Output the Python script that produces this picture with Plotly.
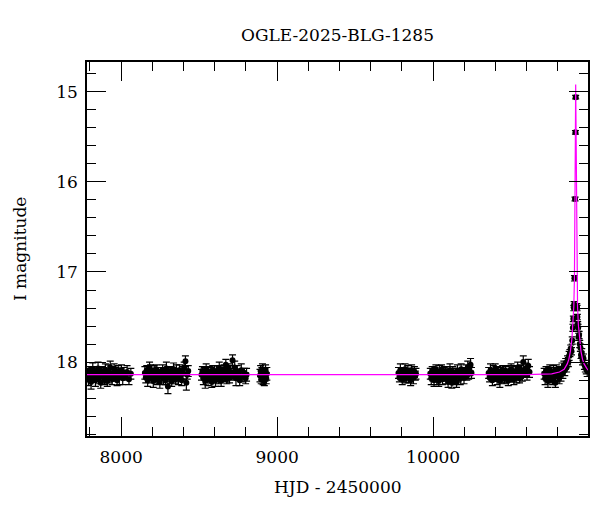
import plotly.graph_objects as go

# ---------------- data ----------------
t1 = [7785, 7790, 7796, 7801, 7807, 7812, 7818, 7823, 7829, 7835, 7841, 7846, 7852, 7858, 7864,
      7869, 7875, 7881, 7887, 7893, 7899, 7905, 7911, 7917, 7923, 7930, 7936, 7942, 7948, 7955,
      7961, 7968, 7974, 7981, 7988, 7995, 8002, 8010, 8018, 8027, 8038, 8050, 8062]
m1 = [18.13, 18.19, 18.10, 18.16, 18.22, 18.12, 18.08, 18.17, 18.14, 18.20,
      18.11, 18.15, 18.07, 18.18, 18.13, 18.23, 18.10, 18.16, 18.12, 18.19,
      18.09, 18.14, 18.21, 18.11, 18.17, 18.06, 18.15, 18.19, 18.12, 18.08,
      18.16, 18.13, 18.20, 18.10, 18.17, 18.14, 18.09, 18.18, 18.12, 18.15,
      18.11, 18.19, 18.13]
e1 = [0.06, 0.07, 0.05, 0.06, 0.08, 0.06, 0.07, 0.05, 0.06, 0.07,
      0.06, 0.05, 0.07, 0.06, 0.08, 0.06, 0.05, 0.07, 0.06, 0.06,
      0.07, 0.05, 0.06, 0.08, 0.06, 0.07, 0.05, 0.06, 0.07, 0.06,
      0.05, 0.07, 0.06, 0.06, 0.08, 0.05, 0.06, 0.07, 0.06, 0.05,
      0.07, 0.06, 0.06]

t2 = [8152, 8158, 8164, 8170, 8176, 8182, 8188, 8194, 8200, 8206, 8212, 8218, 8224, 8230, 8236,
      8242, 8248, 8254, 8260, 8266, 8272, 8278, 8284, 8290, 8296, 8300, 8306, 8312, 8318, 8324,
      8330, 8336, 8342, 8348, 8354, 8360, 8367, 8374, 8381, 8388, 8396, 8404, 8412, 8418, 8424, 8430]
m2 = [18.12, 18.17, 18.09, 18.20, 18.14, 18.06, 18.11, 18.18, 18.13, 18.21,
      18.10, 18.15, 18.08, 18.19, 18.12, 18.16, 18.22, 18.11, 18.14, 18.09,
      18.18, 18.13, 18.20, 18.07, 18.15, 18.27, 18.12, 18.17, 18.10, 18.21,
      18.14, 18.08, 18.16, 18.19, 18.11, 18.13, 18.18, 18.09, 18.15, 18.20,
      18.12, 18.06, 17.99, 18.23, 18.14, 18.10]
e2 = [0.07, 0.06, 0.05, 0.07, 0.06, 0.06, 0.08, 0.05, 0.06, 0.07,
      0.06, 0.07, 0.05, 0.06, 0.06, 0.08, 0.07, 0.05, 0.06, 0.06,
      0.07, 0.06, 0.05, 0.07, 0.06, 0.08, 0.06, 0.07, 0.05, 0.06,
      0.06, 0.07, 0.06, 0.05, 0.08, 0.06, 0.07, 0.06, 0.05, 0.06,
      0.07, 0.06, 0.06, 0.08, 0.05, 0.06]

t3 = [8515, 8521, 8527, 8533, 8539, 8545, 8551, 8557, 8563, 8569, 8575, 8581, 8587, 8593, 8599,
      8605, 8611, 8617, 8623, 8629, 8635, 8641, 8647, 8653, 8659, 8665, 8671, 8677, 8683, 8689,
      8695, 8701, 8707, 8714, 8721, 8728, 8736, 8744, 8752, 8760, 8770, 8780, 8790, 8798, 8804]
m3 = [18.14, 18.10, 18.18, 18.12, 18.21, 18.08, 18.15, 18.19, 18.11, 18.16,
      18.13, 18.22, 18.09, 18.17, 18.12, 18.20, 18.10, 18.15, 18.18, 18.07,
      18.13, 18.21, 18.11, 18.16, 18.09, 18.14, 18.03, 18.19, 18.12, 18.08,
      18.17, 18.11, 18.15, 17.98, 18.13, 18.06, 18.18, 18.10, 18.14, 18.20,
      18.09, 18.16, 18.12, 18.18, 18.14]
e3 = [0.06, 0.05, 0.07, 0.06, 0.08, 0.06, 0.05, 0.07, 0.06, 0.06,
      0.07, 0.06, 0.05, 0.06, 0.08, 0.07, 0.06, 0.05, 0.06, 0.07,
      0.06, 0.06, 0.07, 0.05, 0.06, 0.08, 0.06, 0.05, 0.07, 0.06,
      0.06, 0.07, 0.05, 0.06, 0.06, 0.07, 0.08, 0.06, 0.05, 0.06,
      0.07, 0.06, 0.05, 0.06, 0.07]

t4 = [8890, 8894, 8898, 8902, 8906, 8910, 8914, 8918, 8922, 8926, 8930, 8934]
m4 = [18.15, 18.10, 18.19, 18.13, 18.08, 18.17, 18.12, 18.21, 18.14, 18.09, 18.18, 18.13]
e4 = [0.07, 0.06, 0.05, 0.07, 0.06, 0.08, 0.06, 0.05, 0.07, 0.06, 0.06, 0.07]

t5 = [9778, 9784, 9790, 9796, 9802, 9808, 9814, 9820, 9826, 9832,
      9838, 9844, 9850, 9856, 9862, 9868, 9874, 9880, 9886, 9890]
m5 = [18.12, 18.17, 18.09, 18.14, 18.19, 18.11, 18.15, 18.08, 18.18, 18.13,
      18.10, 18.16, 18.12, 18.20, 18.09, 18.14, 18.17, 18.11, 18.15, 18.13]
e5 = [0.06, 0.05, 0.07, 0.06, 0.06, 0.05, 0.07, 0.06, 0.05, 0.06,
      0.06, 0.07, 0.05, 0.06, 0.06, 0.05, 0.07, 0.06, 0.05, 0.06]

t6 = [9982, 9988, 9994, 10000, 10006, 10012, 10018, 10024, 10030, 10036, 10042, 10048, 10054,
      10060, 10066, 10072, 10078, 10084, 10090, 10096, 10102, 10108, 10114, 10120, 10126, 10132,
      10138, 10144, 10150, 10156, 10162, 10168, 10174, 10180, 10186, 10192, 10198, 10204, 10210,
      10216, 10222, 10228, 10234, 10240, 10246]
m6 = [18.13, 18.18, 18.10, 18.15, 18.20, 18.12, 18.08, 18.17, 18.14, 18.21,
      18.11, 18.16, 18.09, 18.19, 18.13, 18.15, 18.10, 18.18, 18.12, 18.22,
      18.14, 18.09, 18.17, 18.23, 18.11, 18.15, 18.19, 18.12, 18.22, 18.10,
      18.16, 18.13, 18.18, 18.08, 18.14, 18.11, 18.17, 18.12, 18.09, 18.15,
      18.06, 18.13, 18.10, 18.03, 18.12]
e6 = [0.06, 0.07, 0.05, 0.06, 0.07, 0.06, 0.05, 0.08, 0.06, 0.06,
      0.07, 0.05, 0.06, 0.06, 0.07, 0.06, 0.05, 0.06, 0.07, 0.06,
      0.06, 0.07, 0.05, 0.06, 0.06, 0.08, 0.06, 0.05, 0.06, 0.07,
      0.06, 0.05, 0.07, 0.06, 0.06, 0.05, 0.07, 0.06, 0.06, 0.05,
      0.07, 0.06, 0.05, 0.07, 0.06]

t7 = [10356, 10362, 10368, 10374, 10380, 10386, 10392, 10398, 10404, 10410, 10416, 10422, 10428,
      10434, 10440, 10446, 10452, 10458, 10464, 10470, 10476, 10482, 10488, 10494, 10500, 10506,
      10512, 10518, 10524, 10530, 10536, 10542, 10548, 10554, 10560, 10566, 10572, 10578, 10586,
      10594, 10602, 10610, 10618]
m7 = [18.12, 18.17, 18.09, 18.14, 18.20, 18.11, 18.16, 18.08, 18.13, 18.19,
      18.10, 18.15, 18.21, 18.12, 18.17, 18.09, 18.14, 18.18, 18.11, 18.16,
      18.13, 18.20, 18.10, 18.15, 18.08, 18.17, 18.12, 18.19, 18.14, 18.10,
      18.16, 18.06, 18.13, 18.18, 18.11, 18.09, 18.15, 18.00, 18.12, 18.07,
      18.14, 18.04, 18.11]
e7 = [0.06, 0.05, 0.07, 0.06, 0.06, 0.07, 0.05, 0.06, 0.08, 0.06,
      0.05, 0.06, 0.07, 0.06, 0.06, 0.05, 0.07, 0.06, 0.06, 0.07,
      0.05, 0.06, 0.06, 0.07, 0.06, 0.05, 0.08, 0.06, 0.06, 0.05,
      0.07, 0.06, 0.06, 0.05, 0.07, 0.06, 0.06, 0.07, 0.05, 0.06,
      0.06, 0.07, 0.06]

t8 = [10712, 10718, 10724, 10730, 10736, 10742, 10748, 10754, 10760, 10766, 10772, 10778, 10784,
      10790, 10796, 10802, 10808, 10814, 10820, 10826, 10832, 10838, 10844, 10850, 10856, 10862,
      10867, 10872, 10877, 10882, 10887, 10892, 10896, 10899, 10902, 10904, 10906, 10910, 10912.5,
      10914, 10921, 10923, 10925, 10927, 10930, 10933, 10936, 10940, 10944, 10948, 10953, 10958,
      10964, 10970, 10976, 10982, 10988]
m8 = [18.13, 18.18, 18.10, 18.15, 18.21, 18.12, 18.08, 18.17, 18.14, 18.19,
      18.11, 18.16, 18.23, 18.09, 18.15, 18.12, 18.18, 18.10, 18.14, 18.07,
      18.12, 18.04, 18.09, 18.01, 18.06, 17.98,
      18.00, 17.93, 17.90, 17.85, 17.88, 17.76, 17.62, 17.52, 17.40, 17.36,
      17.07, 16.19, 15.45, 15.06, 17.38, 17.40, 17.50, 17.58, 17.62, 17.72,
      17.70, 17.80, 17.84, 17.92, 17.90, 17.98, 17.96, 18.03, 18.06, 18.08,
      18.10]
e8 = [0.06, 0.07, 0.05, 0.06, 0.07, 0.06, 0.05, 0.06, 0.08, 0.06,
      0.07, 0.06, 0.05, 0.06, 0.07, 0.06, 0.06, 0.05, 0.07, 0.06,
      0.06, 0.05, 0.06, 0.05, 0.05, 0.05,
      0.05, 0.05, 0.04, 0.04, 0.04, 0.04, 0.04, 0.03, 0.03, 0.03,
      0.03, 0.02, 0.02, 0.02, 0.03, 0.03, 0.03, 0.03, 0.04, 0.04,
      0.04, 0.04, 0.04, 0.04, 0.05, 0.05, 0.05, 0.05, 0.05, 0.05,
      0.06]

# model light curve (magenta)
model_t = [7780, 10600, 10760, 10810, 10840, 10860, 10870, 10880, 10890, 10897,
           10902, 10906, 10909, 10911, 10912.5, 10914, 10915.5, 10917, 10919, 10922,
           10926, 10931, 10938, 10948, 10958, 10968, 10985, 11000]
model_m = [18.14, 18.14, 18.13, 18.11, 18.08, 18.02, 17.97, 17.88, 17.74, 17.58,
           17.38, 17.08, 16.62, 16.0, 15.4, 14.92, 15.4, 16.0, 16.62, 17.08,
           17.38, 17.58, 17.74, 17.88, 17.97, 18.02, 18.07, 18.10]

title_text = "OGLE-2025-BLG-1285"
x_label = "HJD - 2450000"
y_label = "I magnitude"

# ---------------- figure ----------------
hjd = t1 + t2 + t3 + t4 + t5 + t6 + t7 + t8
mag = m1 + m2 + m3 + m4 + m5 + m6 + m7 + m8
err = e1 + e2 + e3 + e4 + e5 + e6 + e7 + e8

FONT = "DejaVu Serif"

# page body has an 8px offset; plot area in figure coordinates:
L, T, R, B = 79, 54, 580, 428
W, H = 600, 512

fig = go.Figure()
fig.add_trace(go.Scatter(
    x=hjd, y=mag, mode="markers",
    marker=dict(color="black", size=6),
    error_y=dict(type="data", array=err, visible=True, color="black",
                 thickness=1.2, width=3.5),
    showlegend=False, hoverinfo="x+y"))
fig.add_trace(go.Scatter(
    x=model_t, y=model_m, mode="lines",
    line=dict(color="#ff00ff", width=1.2),
    showlegend=False))

axis_common = dict(
    showline=True, linecolor="black", linewidth=1.5, mirror="ticks",
    ticks="inside", ticklen=19, tickwidth=1, tickcolor="black",
    showgrid=False, zeroline=False, tickformat="d",
    tickfont=dict(family=FONT, size=17, color="black"),
)

fig.update_xaxes(range=[7781, 10993], dtick=1000, tick0=0,
                 minor=dict(dtick=200, ticks="inside", ticklen=9, tickcolor="black",
                            tickwidth=1, showgrid=False),
                 ticklabelstandoff=5, **axis_common)
fig.update_yaxes(range=[18.82, 14.67], dtick=1, tick0=0,
                 minor=dict(dtick=0.2, ticks="inside", ticklen=9, tickcolor="black",
                            tickwidth=1, showgrid=False),
                 ticklabelstandoff=4, **axis_common)

ph = B - T
pw = R - L
fig.update_layout(
    width=W, height=H,
    margin=dict(l=L, r=W - R, t=T, b=H - B),
    paper_bgcolor="white", plot_bgcolor="white",
    title=dict(text=title_text, x=(L + R) / 2 / W, xanchor="center", y=1 - 27 / H,
               yanchor="middle", font=dict(family=FONT, size=17, color="black")),
    annotations=[
        dict(text=x_label, xref="paper", yref="paper", x=0.5, y=-51 / ph,
             xanchor="center", yanchor="middle", showarrow=False,
             font=dict(family=FONT, size=17, color="black")),
        dict(text=y_label, xref="paper", yref="paper", x=-67 / pw, y=0.5,
             xanchor="center", yanchor="middle", textangle=-90, showarrow=False,
             font=dict(family=FONT, size=17, color="black")),
    ],
)

fig.write_html("out.html")
